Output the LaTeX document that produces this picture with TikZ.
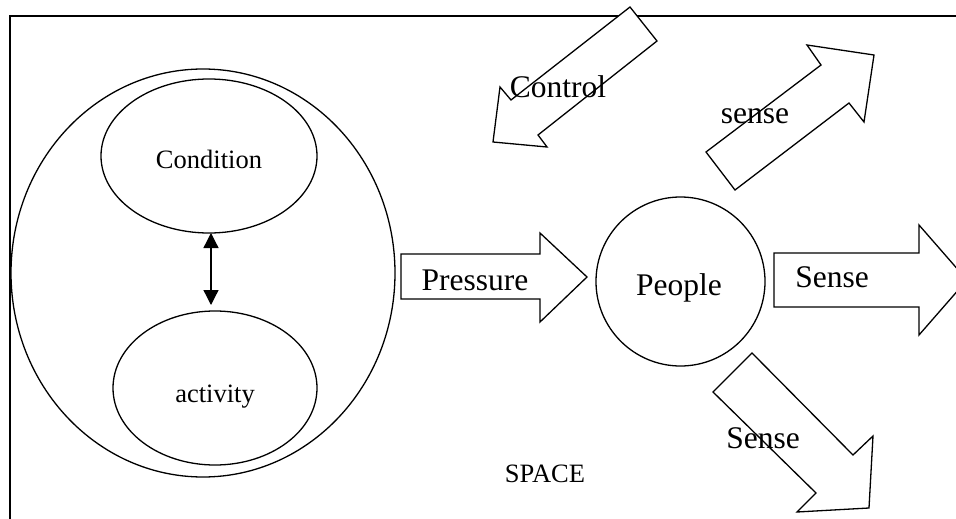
\documentclass[tikz,border=0pt]{standalone}
\usepackage{fontspec}
\setmainfont{Liberation Serif}
\usetikzlibrary{shapes.geometric,arrows.meta}
\begin{document}
\begin{tikzpicture}[x=1pt,y=-1pt,
  lw/.style={line width=1.3pt},
  oval/.style={draw,lw,ellipse,inner sep=0pt},
  big/.style={font=\fontsize{31.5}{36}\selectfont,inner sep=0pt,anchor=base},
  small/.style={font=\fontsize{26.5}{30}\selectfont,inner sep=0pt,anchor=base},
  blockarrow/.style={draw,lw,fill=white,line join=miter},
  dbl/.style={lw,{Triangle[length=15pt,width=15pt]}-{Triangle[length=15pt,width=15pt]}}]
\useasboundingbox (0,0) rectangle (956,519);
\clip (0,0) rectangle (956,519);
% frame
\draw[lw] (10,540) -- (10,16) -- (980,16);
% left group
\node[oval,minimum width=384pt,minimum height=408pt] (outer) at (203,273) {};
\node[oval,minimum width=216pt,minimum height=154pt] (cond) at (209,156) {};
\node[oval,minimum width=204pt,minimum height=154pt] (act) at (215,388) {};
\node[small] (condt) at (209,168) {Condition};
\node[small] (actt) at (215,402) {activity};
\coordinate (dtop) at (211,233);
\coordinate (dbot) at (211,305);
\draw[dbl] (dtop) -- (dbot);
% people
\node[draw,lw,circle,minimum size=169pt,inner sep=0pt] (people) at (680.5,281.5) {};
\node[big] (peoplet) at (679,295) {People};
% pressure arrow
\draw[blockarrow] (401,254) -- (540,254) -- (540,233) -- (587,277) -- (540,322) -- (540,299) -- (401,299) -- cycle;
\node[big] (press) at (475,290) {Pressure};
% sense right arrow
\draw[blockarrow] (774,253) -- (919,253) -- (919,225) -- (967,280) -- (919,335) -- (919,307) -- (774,307) -- cycle;
\node[big] (senser) at (832,287) {Sense};
% control arrow
\draw[blockarrow] (630,7) -- (657,41) -- (538,135) -- (547,147) -- (493,142) -- (500,87) -- (511,100) -- cycle;
\node[big] (control) at (558,97) {Control};
% sense upper arrow
\draw[blockarrow] (706,152) -- (735,190) -- (849,103) -- (864,122) -- (874,55) -- (807,45) -- (821,65) -- cycle;
\node[big] (senseu) at (755,123) {sense};
% sense bottom arrow
\draw[blockarrow] (752,353) -- (713,392) -- (816,493) -- (797,512) -- (869,508) -- (873,436) -- (853,455) -- cycle;
\node[big] (senseb) at (763,448) {Sense};
% space
\node[small] (space) at (545,482) {SPACE};
\end{tikzpicture}
\end{document}
